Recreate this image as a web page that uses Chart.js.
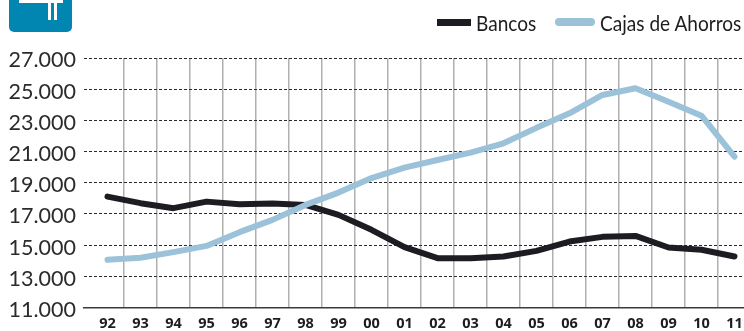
<!DOCTYPE html>
<html>
<head>
<meta charset="utf-8">
<script src="https://cdn.jsdelivr.net/npm/chart.js@4"></script>
<style>
    body { margin: 0; background: #fff; }
    #wrap { position: relative; width: 744px; height: 331px; overflow: hidden; }
    #chart { position: absolute; left: 0; top: 0; }
    .icon { position: absolute; left: 9px; top: -4px; width: 63px; height: 36px; background: #0086b0; border-radius: 0 0 5px 5px; }
    .icon i { position: absolute; background: #fff; }
    .key { position: absolute; top: 10px; font: 20.5px Lato, sans-serif; color: #1d1d1f; line-height: 26px; white-space: nowrap; transform: scaleX(0.93); transform-origin: left; }
    .swatch { position: absolute; }
</style>
</head>
<body>
<div id="wrap">
    <canvas id="chart" width="744" height="331"></canvas>
    <div class="icon">
        <i style="left:10px;top:0;width:44px;height:7px"></i>
        <i style="left:39px;top:7px;width:3px;height:17px"></i>
        <i style="left:45px;top:7px;width:3px;height:17px"></i>
    </div>
    <div class="swatch" style="left:437px;top:19px;width:34px;height:7px;background:#1d1c22"></div>
    <div class="key" style="left:476px">Bancos</div>
    <div class="swatch" style="left:555px;top:18px;width:40px;height:8px;background:#9cc2da;border-radius:4px"></div>
    <div class="key" style="left:600px">Cajas de Ahorros</div>
</div>
<script>
const years = [1992, 1993, 1994, 1995, 1996, 1997, 1998, 1999, 2000, 2001, 2002, 2003, 2004, 2005, 2006, 2007, 2008, 2009, 2010, 2011];
const bancos = [18110, 17690, 17370, 17790, 17625, 17665, 17580, 16940, 15980, 14870, 14165, 14165, 14270, 14630, 15230, 15530, 15590, 14850, 14700, 14270];
const cajas = [14060, 14190, 14550, 14950, 15830, 16620, 17580, 18370, 19300, 19970, 20460, 20930, 21530, 22520, 23450, 24630, 25060, 24200, 23300, 20680];
const yTicks = [11000, 13000, 15000, 17000, 19000, 21000, 23000, 25000, 27000];

const toPoints = (arr) => arr.map((v, i) => ({ x: years[i], y: v }));

// 1991.29 .. 2011.29 puts the years where the frame needs them
const xMin = 1991.288;
const xMax = 2011.288;

let chart = new Chart(document.getElementById("chart"), {
    type: 'line',
    data: {
        datasets: [
            {
                label: 'Cajas de Ahorros',
                data: toPoints(cajas),
                borderColor: '#9cc2da',
                borderWidth: 6,
                borderCapStyle: 'round',
                borderJoinStyle: 'round',
                pointRadius: 0,
                tension: 0,
                order: 1
            },
            {
                label: 'Bancos',
                data: toPoints(bancos),
                borderColor: '#1d1c22',
                borderWidth: 6,
                borderCapStyle: 'round',
                borderJoinStyle: 'round',
                pointRadius: 0,
                tension: 0,
                order: 2
            }
        ]
    },
    options: {
        responsive: false,
        animation: false,
        layout: { padding: { left: 0, right: 0, top: 58, bottom: 0 } },
        plugins: { legend: { display: false }, tooltip: { enabled: false } },
        scales: {
            // year labels, no grid
            x: {
                type: 'linear',
                min: xMin,
                max: xMax,
                afterBuildTicks: (axis) => { axis.ticks = years.map(v => ({ value: v })); },
                afterFit: (axis) => { axis.height = 331 - 307.5; },
                grid: { display: false },
                border: { color: '#3a3a3c', width: 1.5 },
                ticks: {
                    autoSkip: false,
                    maxRotation: 0,
                    padding: 0,
                    color: '#1d1d1f',
                    font: { family: 'Open Sans', size: 14.5, weight: 'bold' },
                    callback: (v) => String(v).slice(2)
                }
            },
            // vertical rules sit halfway between the years
            xGrid: {
                type: 'linear',
                position: 'bottom',
                min: xMin,
                max: xMax,
                afterBuildTicks: (axis) => { axis.ticks = years.slice(0, -1).map(v => ({ value: v + 0.5 })); },
                afterFit: (axis) => { axis.height = 0; },
                border: { display: false },
                grid: { color: '#b0b0b0', lineWidth: 1.5, drawTicks: false },
                ticks: { display: false }
            },
            y: {
                min: 11000,
                max: 27000,
                afterBuildTicks: (axis) => { axis.ticks = yTicks.map(v => ({ value: v })); },
                afterFit: (axis) => { axis.width = 84; },
                border: { display: false, dash: [3, 2] },
                grid: {
                    color: '#2b2b2b',
                    lineWidth: 1,
                    drawTicks: false
                },
                ticks: {
                    padding: 8,
                    labelOffset: 2.5,
                    color: '#2b2b2b',
                    font: { family: 'Lato', size: 21.5, weight: 400 },
                    callback: (v) => v.toLocaleString('de-DE')
                }
            }
        }
    }
});
</script>
</body>
</html>
